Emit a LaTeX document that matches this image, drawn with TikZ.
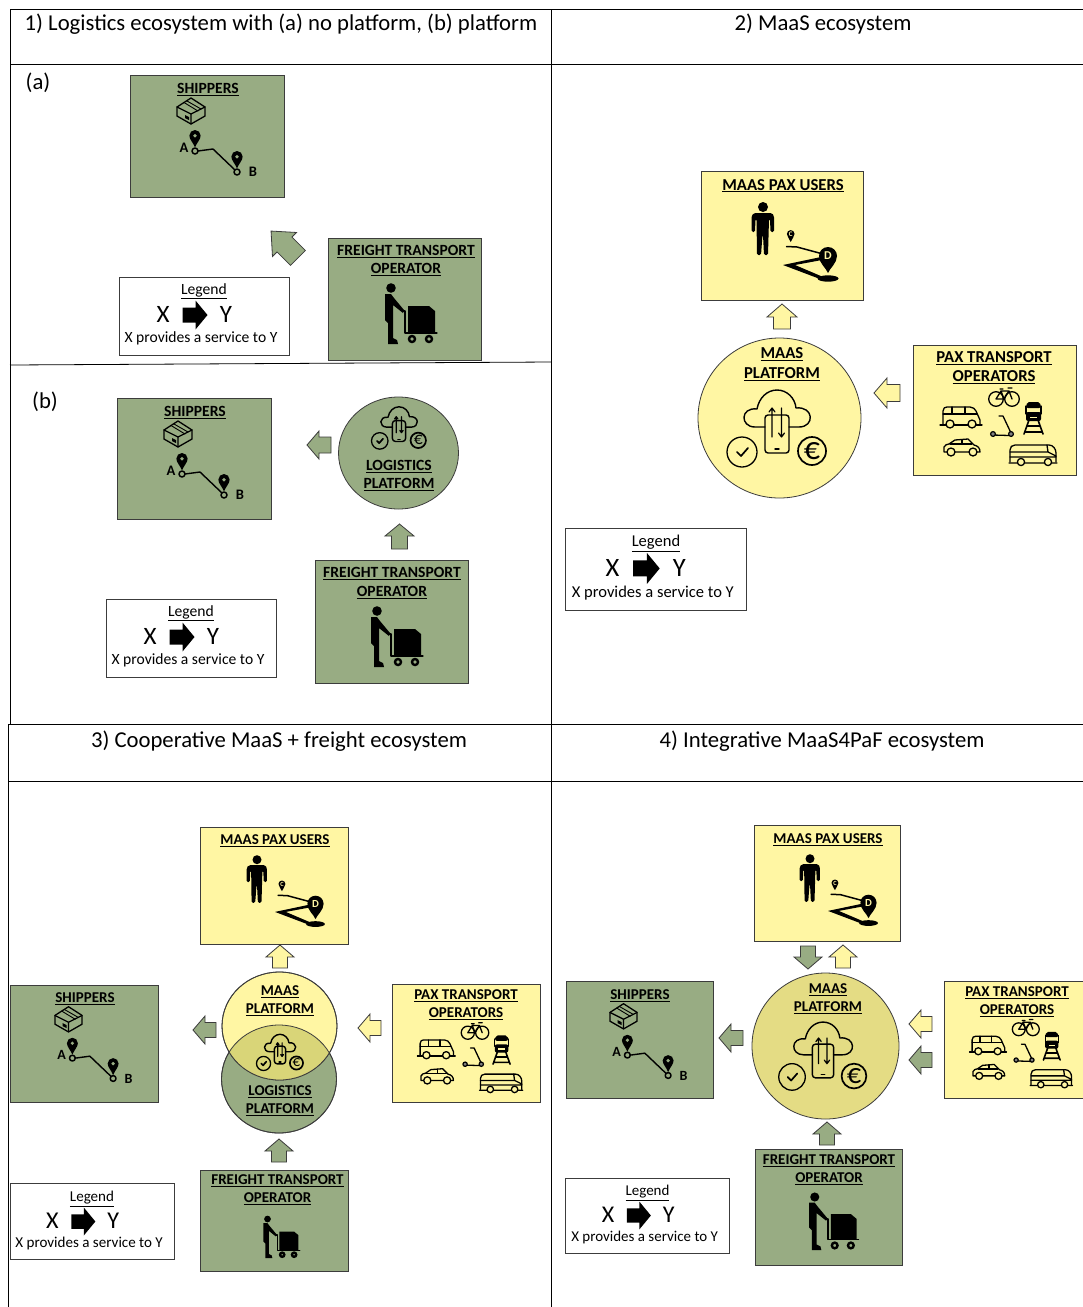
\documentclass[tikz,border=0pt]{standalone}
\usepackage{fontspec}
\usetikzlibrary{shapes.geometric}
\setmainfont{Carlito}
\definecolor{gr}{RGB}{152,172,131}
\definecolor{ye}{RGB}{255,246,163}
\definecolor{yd}{RGB}{228,220,132}
\definecolor{ov}{RGB}{217,213,120}
\definecolor{edge}{RGB}{60,60,60}
\tikzset{
 gbox/.style={draw=edge,line width=.9pt,fill=gr,inner sep=0pt},
 ybox/.style={draw=edge,line width=.9pt,fill=ye,inner sep=0pt},
 gring/.style={draw=edge,line width=.8pt,fill=gr},
 yring/.style={draw=edge,line width=.8pt,fill=ye},
 lbl/.style={align=center,inner sep=0pt,text=black},
 gridline/.style={draw=black,line width=.8pt},
 ic/.style={draw=black,line width=1.3pt,line cap=round,line join=round},
 lgdbox/.style={draw=edge,line width=.9pt,fill=white,minimum width=170pt,minimum height=78pt,inner sep=0pt},
 title/.style={inner sep=0pt,font=\fontsize{22.7}{26}\selectfont},
}
\newcommand{\ul}[1]{\underline{#1}}
% label: name x y size leading text (y is corrected so that the caps sit where the reference has them)
\newcommand{\lab}[6]{\node[lbl,font=\bfseries\fontsize{#4}{#5}\selectfont] (#1) at (#2,#3+1.6) {#6};}
% block arrow: name cx cy rot L headw headlen shaftw fill
\newcommand{\barrow}[9]{\begin{scope}[shift={(#2,#3)},rotate=#4]
 \draw[draw=edge,line width=.8pt,fill=#9,line join=miter] (#5/2,0) -- (#5/2-#7,#6/2) -- (#5/2-#7,#8/2) -- (-#5/2,#8/2) -- (-#5/2,-#8/2) -- (#5/2-#7,-#8/2) -- (#5/2-#7,-#6/2) -- cycle;
 \coordinate (#1) at (0,0);
\end{scope}}
% pin with tip at x y
\newcommand{\pin}[4]{\begin{scope}[shift={(#1,#2)},scale=#3]
 \fill[black] (0,0) .. controls (-1.5,-4) and (-4.5,-6.5) .. (-4.5,-9.5) .. controls (-4.5,-12) and (-2.5,-14) .. (0,-14) .. controls (2.5,-14) and (4.5,-12) .. (4.5,-9.5) .. controls (4.5,-6.5) and (1.5,-4) .. (0,0) -- cycle;
 \fill[#4] (0,-9.5) circle[radius=1.5];
\end{scope}}
% shipper icon, reference at (208,88)
\newcommand{\shipicon}[3]{\begin{scope}[shift={(#1,#2)},scale=#3,shift={(-208,-88)}]
 \begin{scope}[shift={(191,111)}]
 \draw[ic] (0,-13) -- (14,-4) -- (14,5) -- (0,13) -- (-14,5) -- (-14,-4) -- cycle;
 \draw[ic] (-14,-4) -- (0,3) -- (14,-4) (0,3) -- (0,13);
 \draw[ic,line width=.9pt] (-7,-8.5) -- (7,0) (-4,-10) -- (10,-2);
 \fill[black] (-6,7) -- (-2,9) -- (-2,6) -- (-6,4) -- cycle;
 \end{scope}
 \pin{195}{147.5}{1.25}{gr}
 \pin{237}{168.5}{1.25}{gr}
 \draw[ic,line width=1.4pt] (198,151) -- (213,149) -- (235,170);
 \draw[ic,line width=1.5pt] (195,151) circle[radius=3] (237,172) circle[radius=3];
 \node[lbl,transform shape,font=\bfseries\fontsize{14.5}{16}\selectfont] at (184,148) {A};
 \node[lbl,transform shape,font=\bfseries\fontsize{14.5}{16}\selectfont] at (253,172) {B};
\end{scope}}
% worker, reference at (406,268)
\newcommand{\workicon}[3]{\begin{scope}[shift={(#1,#2)},scale=#3,shift={(-406,-268)}]
 \fill[black] (391,288) circle[radius=4.8];
 \fill[black] (385,294) -- (391,294) -- (394,298) -- (404,310) -- (403,313) -- (393,305) -- (393,338) -- (397,340) -- (398,344) -- (388,344) -- (388,323) -- (385,320) -- cycle;
 \fill[black] (408,306) -- (429,306) -- (435,311) -- (435,332) -- (408,332) -- cycle;
 \draw[ic,line width=1.3pt] (403,311) -- (405,311) -- (405,333) -- (437,333);
 \draw[black,line width=2.4pt,fill=gr] (412,339) circle[radius=3] (429,339) circle[radius=3];
\end{scope}}
% person and route, reference at (783,184)
\newcommand{\usericon}[3]{\begin{scope}[shift={(#1,#2)},scale=#3,shift={(-783,-184)}]
 \fill[black] (763,207) circle[radius=5];
 \fill[black,rounded corners=1.5pt] (754,213) -- (772,213) -- (774,216) -- (774,232) -- (770.5,232) -- (770,219) -- (769,219) -- (768,255) -- (764,255) -- (763,235) -- (762.5,235) -- (761,255) -- (757,255) -- (756.5,219) -- (755.5,219) -- (755,232) -- (751.5,232) -- (751.5,216) -- cycle;
 \pin{790.7}{242}{.85}{black}
 \node[lbl,transform shape,text=ye,font=\bfseries\fontsize{7}{8}\selectfont] at (790.7,234) {C};
 \draw[ic,line width=1.5pt] (786.5,246.5) -- (797,247) -- (823,254);
 \fill[black] (821,257) -- (783,265) -- (820,279) -- (822,276.5) -- (795,265) -- (822,260) -- cycle;
 \fill[black] (828,278.5) ellipse[x radius=10.5,y radius=3.2];
 \fill[black] (828,273) .. controls (826,268) and (819,263) .. (819,256) .. controls (819,251) and (823,247) .. (828,247) .. controls (833,247) and (837,251) .. (837,256) .. controls (837,263) and (830,268) .. (828,273) -- cycle;
 \node[lbl,transform shape,text=ye,font=\bfseries\fontsize{12}{14}\selectfont] at (828,256) {D};
\end{scope}}
% platform, reference at phone centre (777,434)
\newcommand{\platicon}[3]{\begin{scope}[shift={(#1,#2)},scale=#3]
 \draw[ic,line width=1.4pt] (-12,-7) -- (-22,-7) .. controls (-37,-7) and (-37,-27) .. (-20,-25) .. controls (-18,-36) and (-10,-44) .. (0,-44) .. controls (10,-44) and (18,-36) .. (19,-26) .. controls (37,-28) and (38,-7) .. (22,-7) -- (12,-7);
 \draw[ic,line width=1.4pt,rounded corners=3pt] (-12,-19) rectangle (12,19);
 \draw[ic,line width=1.4pt] (-2,15) -- (2,15);
 \draw[ic,line width=1.2pt] (-5,3) -- (-5,-26) (-8,-22) -- (-5,-26) -- (-2,-22);
 \draw[ic,line width=1.2pt] (4.5,-26) -- (4.5,3) (1.5,-1) -- (4.5,3) -- (7.5,-1);
 \draw[ic,line width=1.3pt] (-35,18) circle[radius=15];
 \draw[ic,line width=1.7pt] (-40,18) -- (-36,22) -- (-29,14);
 \draw[ic,line width=1.7pt] (35,17) circle[radius=14];
 \node[lbl,transform shape,font=\fontsize{32}{34}\selectfont] at (35,17) {€};
\end{scope}}
% vehicles, reference at (994,376)
\newcommand{\vehicon}[3]{\begin{scope}[shift={(#1,#2)},scale=#3,shift={(-994,-376)}]
 % van
 \draw[ic] (943,425) -- (943,411) .. controls (943,408) and (945,407) .. (947,407) -- (970,407) .. controls (973,407) and (975,409) .. (976,411) -- (980,420) -- (980,425);
 \draw[ic] (940,425) -- (982,425) (943,414) -- (977,414) (952,407) -- (952,414) (965,407) -- (965,414);
 \draw[ic,fill=ye] (950,424) circle[radius=4] (972,424) circle[radius=4];
 % bike
 \draw[ic] (996,399) circle[radius=7.3] (1012,399) circle[radius=7.3];
 \draw[ic] (996,399) -- (1001,391) -- (1009,391) -- (1012,399) (996,399) -- (1004,399) -- (1009,391) (1001,391) -- (1004,399) (1000,389) -- (1003,389) (1008,388) -- (1012,388);
 % train
 \fill[black,rounded corners=2pt] (1026,408) -- (1027,402) -- (1040,402) -- (1041,408) -- cycle;
 \fill[black,rounded corners=2pt] (1026,412) rectangle (1041,421);
 \draw[ic] (1026,406) -- (1026,414) (1041,406) -- (1041,414);
 \fill[ye] (1030,416.5) rectangle (1037,418);
 \draw[ic,line width=1.6pt] (1029,420) -- (1024,434) (1038,420) -- (1043,434) (1027,426) -- (1040,426) (1025,432) -- (1042,432);
 % scooter
 \draw[ic] (999,416) -- (1003,416) -- (1011,433) (993,435) -- (1009,435.5);
 \draw[black,line width=1.2pt,fill=gray] (993,434) circle[radius=2.4] (1011,434) circle[radius=2.4];
 % car
 \draw[ic] (944,452) -- (944,447) .. controls (945,445) and (947,444) .. (949,444) -- (955,440) -- (968,439) -- (974,445) .. controls (978,446) and (980,448) .. (980,452) -- cycle;
 \draw[ic] (950,444) -- (972,444) (962,439.5) -- (962,444);
 \draw[ic,fill=ye] (951,452) circle[radius=4] (973,452) circle[radius=4];
 % bus
 \draw[ic] (1010,462) -- (1010,450) .. controls (1010,447) and (1012,445) .. (1015,445) -- (1049,445) .. controls (1053,445) and (1056,449) .. (1056,453) -- (1056,462);
 \draw[ic] (1009,463) -- (1057,463) (1010,452) -- (1048,452) -- (1047,445) (1010,457) -- (1056,457) (1048,452) -- (1056,456);
 \draw[ic,fill=ye] (1021,462) circle[radius=3.6] (1048,462) circle[radius=3.6];
\end{scope}}
% legend: prefix cx cy scale dy
\newcommand{\lgd}[5]{\begin{scope}[shift={(#2,#3)},scale=#4,transform shape]
 \node[lgdbox] (#1) at (0,0) {};
 \begin{scope}[shift={(0,#5)}]
 \node[lbl,font=\fontsize{15.6}{17}\selectfont] (#1t) at (0,-25.5) {\ul{Legend}};
 \node[lbl,font=\fontsize{25}{27}\selectfont] (#1x) at (-41,-2.5) {X};
 \node[lbl,font=\fontsize{25}{27}\selectfont] (#1y) at (22,-2.5) {Y};
 \node[lbl,font=\fontsize{15.6}{17}\selectfont] (#1d) at (-3,21) {X provides a service to Y};
 \fill[black] (3.5,-2) -- (-8.5,-16.5) -- (-8.5,-9.5) -- (-21.5,-9.5) -- (-21.5,5.5) -- (-8.5,5.5) -- (-8.5,12.5) -- cycle;
 \end{scope}
\end{scope}}
\begin{document}
\begin{tikzpicture}[x=1pt,y=-1pt]
\useasboundingbox (0,0) rectangle (1083,1307);
\clip (0,0) rectangle (1083,1307);
\fill[white] (0,0) rectangle (1083,1307);
% grid
\draw[gridline] (10,9) -- (1083,9) (10,64) -- (1083,64) (10,9) -- (10,724);
\draw[gridline] (551.5,9) -- (551.5,1307);
\draw[gridline] (10,365) -- (551.5,362);
\draw[gridline] (8,724) -- (1083,724) (8,781) -- (1083,781) (8,724) -- (8,1307);
% titles
\node[title] (t1) at (281,24.5) {1) Logistics ecosystem with (a) no platform, (b) platform};
\node[title] (t2) at (823,24.5) {2) MaaS ecosystem};
\node[title] (t3) at (279,741.5) {3) Cooperative MaaS + freight ecosystem};
\node[title] (t4) at (822,741.5) {4) Integrative MaaS4PaF ecosystem};
\node[title] (pa) at (38,83) {(a)};
\node[title] (pb) at (45,401.5) {(b)};

% ---- panel 1a
\node[gbox,minimum width=154pt,minimum height=122pt] (s1) at (207,136) {};
\lab{s1l}{208}{88}{15.6}{18.5}{\ul{SHIPPERS}}
\shipicon{208}{88}{1}
\node[gbox,minimum width=153pt,minimum height=122pt] (f1) at (404.5,299) {};
\lab{f1l}{406}{259}{15.6}{18.5}{\ul{FREIGHT TRANSPORT}\\\ul{OPERATOR}}
\workicon{406}{268}{1}
\barrow{a1}{284.5}{244.5}{135}{38}{34}{19}{21}{gr}
\lgd{l1}{204}{316}{1}{1}
% ---- panel 1b
\node[gbox,minimum width=154pt,minimum height=121pt] (s2) at (194,458.5) {};
\lab{s2l}{195}{411}{15.6}{18.5}{\ul{SHIPPERS}}
\shipicon{195}{411}{1}
\node[gring,ellipse,minimum width=120pt,minimum height=112pt,inner sep=0pt] (lp1) at (398.5,453) {};
\platicon{399}{431}{.55}
\lab{lp1l}{399}{474}{15.6}{18.5}{\ul{LOGISTICS}\\\ul{PLATFORM}}
\node[gbox,minimum width=153pt,minimum height=123pt] (f2) at (391.5,621.5) {};
\lab{f2l}{392}{581.5}{15.6}{18.5}{\ul{FREIGHT TRANSPORT}\\\ul{OPERATOR}}
\workicon{392}{591}{1}
\barrow{a2}{319}{445}{180}{24}{28}{12}{16}{gr}
\barrow{a3}{399.5}{536.5}{90}{25}{29}{12}{16}{gr}
\lgd{l2}{191}{638}{1}{1}
% ---- panel 2
\node[ybox,minimum width=162pt,minimum height=129pt] (u1) at (782,235.5) {};
\lab{u1l}{783}{184}{16.7}{19}{\ul{MAAS PAX USERS}}
\usericon{783}{184}{1}
\node[yring,ellipse,minimum width=163pt,minimum height=160pt,inner sep=0pt] (mp1) at (779.5,418) {};
\lab{mp1l}{782}{362.5}{16.7}{19.5}{\ul{MAAS}\\\ul{PLATFORM}}
\platicon{777}{434}{1}
\node[ybox,minimum width=163pt,minimum height=130pt] (o1) at (994.5,410) {};
\lab{o1l}{994}{366}{16.7}{19.5}{\ul{PAX TRANSPORT}\\\ul{OPERATORS}}
\vehicon{994}{376}{1}
\barrow{a4}{782}{316.5}{90}{25}{30}{13}{17}{ye}
\barrow{a5}{887}{393}{180}{26}{30}{13}{17}{ye}
\lgd{l3}{656}{569.5}{1.06}{1}
% ---- panel 3
\node[ybox,minimum width=148pt,minimum height=117pt] (u2) at (274,885.5) {};
\lab{u2l}{275}{839}{15}{17}{\ul{MAAS PAX USERS}}
\usericon{275}{839}{.9}
\node[gbox,minimum width=148pt,minimum height=117pt] (s3) at (84,1043.5) {};
\lab{s3l}{85}{997}{15}{17}{\ul{SHIPPERS}}
\shipicon{85}{997}{.97}
\node[ybox,minimum width=148pt,minimum height=118pt] (o2) at (466,1043) {};
\lab{o2l}{466}{1003}{15}{18}{\ul{PAX TRANSPORT}\\\ul{OPERATORS}}
\vehicon{466}{1012}{.9}
\node[gbox,minimum width=148pt,minimum height=101pt] (f3) at (274,1220.5) {};
\lab{f3l}{277.5}{1188}{15}{18}{\ul{FREIGHT TRANSPORT}\\\ul{OPERATOR}}
\workicon{278}{1205}{.7}
\node[gring,ellipse,minimum width=115pt,minimum height=108pt,inner sep=0pt] (lp2) at (279,1079) {};
\node[yring,ellipse,minimum width=115pt,minimum height=108pt,inner sep=0pt] (mp2) at (279.5,1026) {};
\begin{scope}
 \clip (279,1079) ellipse[x radius=57.5,y radius=54];
 \fill[ov] (279.5,1026) ellipse[x radius=57.5,y radius=54];
\end{scope}
\draw[draw=edge,line width=.8pt] (279,1079) ellipse[x radius=57.5,y radius=54] (279.5,1026) ellipse[x radius=57.5,y radius=54];
\lab{mp2l}{280}{999}{15}{18}{\ul{MAAS}\\\ul{PLATFORM}}
\lab{lp2l}{280}{1099}{15}{18}{\ul{LOGISTICS}\\\ul{PLATFORM}}
\platicon{280}{1055}{.47}
\barrow{a6}{280}{956.5}{90}{23}{28}{12}{15}{ye}
\barrow{a7}{204.5}{1030}{180}{23}{28}{12}{15}{gr}
\barrow{a8}{369.5}{1028}{180}{23}{28}{12}{15}{ye}
\barrow{a9}{279}{1150.5}{90}{23}{28}{12}{15}{gr}
\lgd{l4}{92}{1221.5}{.965}{2}
% ---- panel 4
\node[ybox,minimum width=146pt,minimum height=116pt] (u3) at (827,883.5) {};
\lab{u3l}{828}{838}{15}{17}{\ul{MAAS PAX USERS}}
\usericon{828}{838}{.9}
\node[gbox,minimum width=147pt,minimum height=117pt] (s4) at (639.5,1039.5) {};
\lab{s4l}{640}{994}{15}{17}{\ul{SHIPPERS}}
\shipicon{640}{994}{.97}
\node[ybox,minimum width=148pt,minimum height=117pt,anchor=west] (o3) at (944,1039.5) {};
\lab{o3l}{1017}{1000}{15}{18}{\ul{PAX TRANSPORT}\\\ul{OPERATORS}}
\vehicon{1017}{1009}{.88}
\node[gbox,minimum width=147pt,minimum height=116pt] (f4) at (828.5,1207) {};
\lab{f4l}{829}{1168}{15}{18}{\ul{FREIGHT TRANSPORT}\\\ul{OPERATOR}}
\workicon{829}{1178}{.95}
\node[draw=edge,line width=.8pt,fill=yd,ellipse,minimum width=147pt,minimum height=146pt,inner sep=0pt] (mp3) at (825.5,1046) {};
\lab{mp3l}{828}{997}{15}{18}{\ul{MAAS}\\\ul{PLATFORM}}
\platicon{823}{1061}{.885}
\barrow{a10}{808}{957.5}{-90}{23}{28}{12}{15}{gr}
\barrow{a11}{843}{956.5}{90}{23}{28}{12}{15}{ye}
\barrow{a12}{731}{1038}{180}{24}{28}{12}{15}{gr}
\barrow{a13}{920.5}{1024}{180}{23}{28}{12}{15}{ye}
\barrow{a14}{920.5}{1060}{180}{23}{28}{12}{15}{gr}
\barrow{a15}{827}{1133.5}{90}{23}{28}{12}{15}{gr}
\lgd{l5}{647.5}{1215.5}{.96}{2}
\end{tikzpicture}
\end{document}
